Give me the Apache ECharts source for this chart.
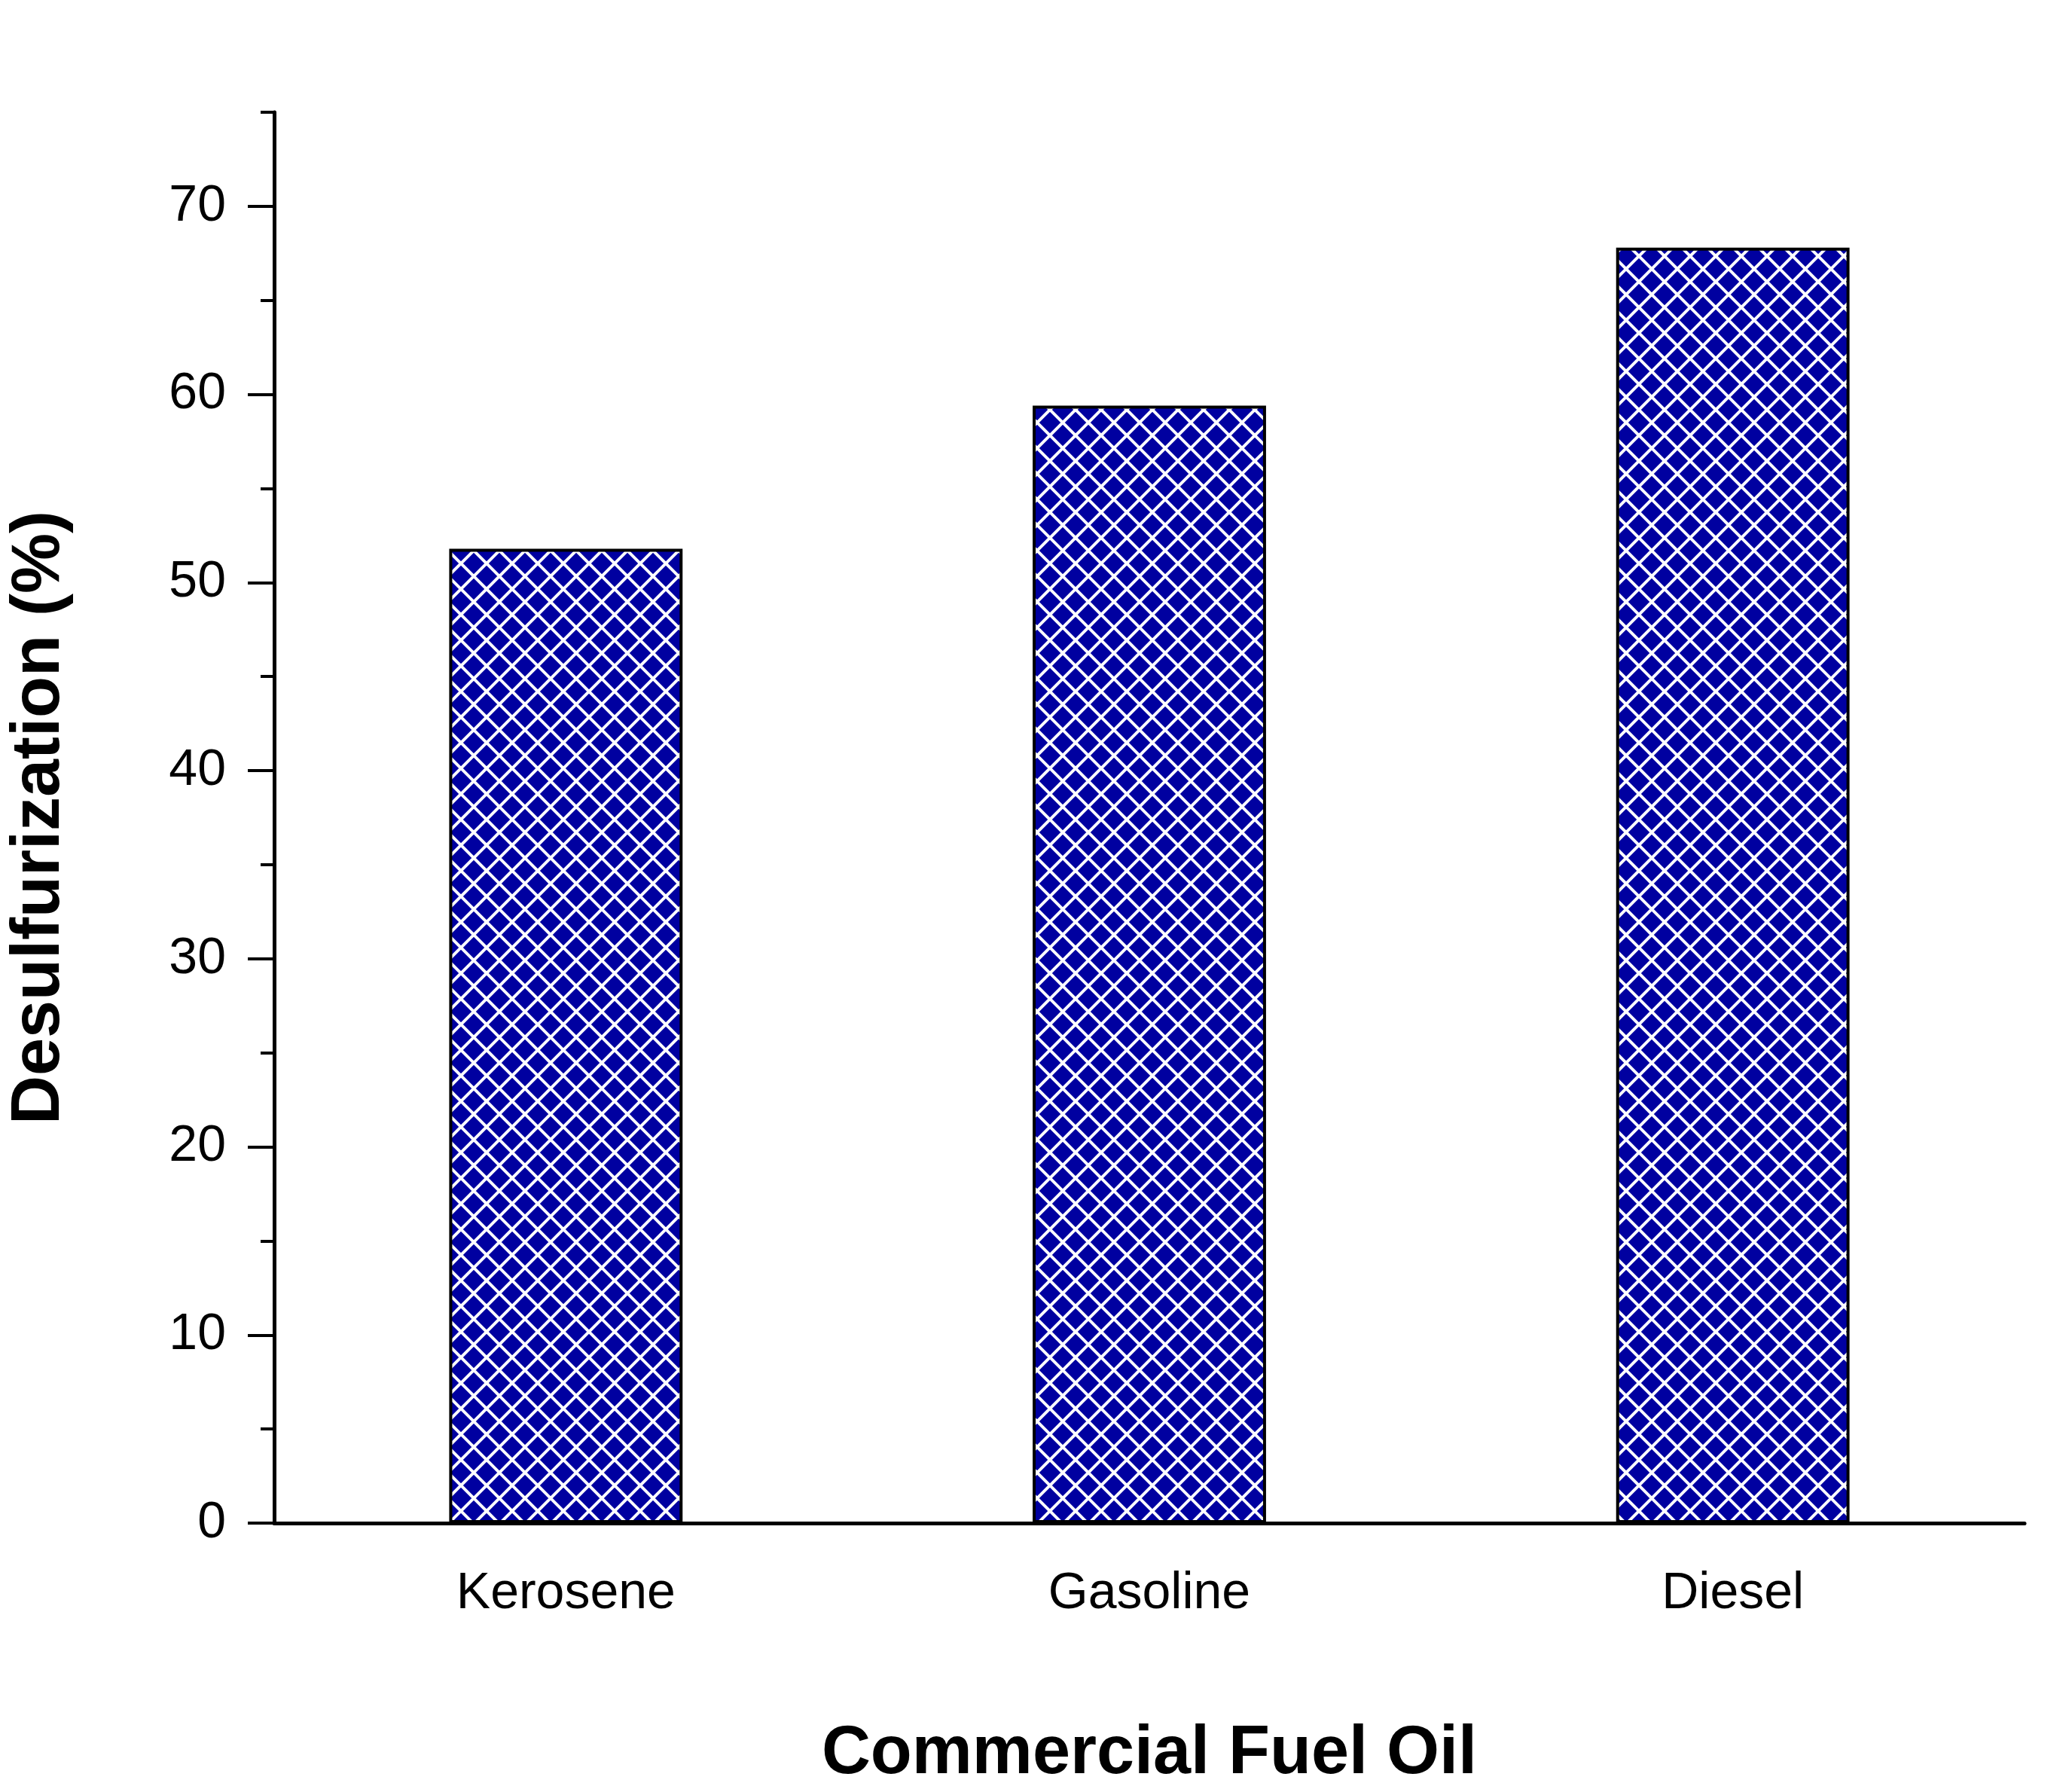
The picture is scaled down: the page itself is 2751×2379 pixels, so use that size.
<!DOCTYPE html>
<html>
<head>
<meta charset="utf-8">
<script src="https://cdn.jsdelivr.net/npm/echarts@6/dist/echarts.min.js"></script>
<style>html,body{margin:0;background:#fff}#chart{width:2751px;height:2379px}</style>
</head>
<body>
<div id="chart"></div>
<script>
var fuels = ['Kerosene', 'Gasoline', 'Diesel'];
var desulfurization = [51.8, 59.4, 67.8];
var majorTicks = [0, 10, 20, 30, 40, 50, 60, 70];
var minorTicks = [5, 15, 25, 35, 45, 55, 65, 75];

// cross-hatch fill
var tile = document.createElement('canvas');
tile.width = 34; tile.height = 34;
var c = tile.getContext('2d');
c.fillStyle = '#0000a0';
c.fillRect(0, 0, 34, 34);
c.strokeStyle = '#ffffff';
c.lineWidth = 4;
c.beginPath();
c.moveTo(-4, -4); c.lineTo(38, 38);
c.moveTo(-4, 38); c.lineTo(38, -4);
c.stroke();

var font = 'Liberation Sans';

var option = {
    backgroundColor: '#ffffff',
    grid: { left: 351, right: 63, top: 149, bottom: 354 },
    xAxis: [
        {
            type: 'category',
            data: fuels,
            name: 'Commercial Fuel Oil',
            nameLocation: 'middle',
            nameGap: 262,
            nameTextStyle: { fontFamily: font, fontSize: 90, fontWeight: 'bold', color: '#000' },
            axisLine: { lineStyle: { color: '#000', width: 5 } },
            axisTick: { alignWithLabel: true, length: 35, lineStyle: { color: '#000', width: 4 } },
            axisLabel: { fontFamily: font, fontSize: 68, color: '#000', margin: 60 }
        },
        {
            type: 'category',
            data: fuels,
            position: 'bottom',
            axisLine: { show: false },
            axisTick: { length: 18, lineStyle: { color: '#000', width: 4 } },
            axisLabel: { show: false }
        }
    ],
    yAxis: [
        {
            type: 'value',
            min: 0, max: 75,
            name: 'Desulfurization (%)',
            nameLocation: 'middle',
            nameGap: 266,
            nameTextStyle: { fontFamily: font, fontSize: 90, fontWeight: 'bold', color: '#000' },
            splitLine: { show: false },
            axisLine: { show: true, lineStyle: { color: '#000', width: 5 } },
            axisTick: { show: true, customValues: majorTicks, length: 35, lineStyle: { color: '#000', width: 4 } },
            axisLabel: { customValues: majorTicks, fontFamily: font, fontSize: 68, color: '#000', margin: 64 }
        },
        {
            type: 'value',
            min: 0, max: 75,
            position: 'left',
            splitLine: { show: false },
            axisLine: { show: false },
            axisTick: { show: true, customValues: minorTicks, length: 18, lineStyle: { color: '#000', width: 4 } },
            axisLabel: { show: false }
        }
    ],
    series: [
        {
            type: 'bar',
            data: desulfurization,
            barWidth: '40%',
            itemStyle: {
                color: { image: tile, repetition: 'repeat' },
                borderColor: '#000',
                borderWidth: 4
            }
        }
    ]
};

var chart = echarts.init(document.getElementById('chart'));
chart.setOption(option);
</script>
</body>
</html>
